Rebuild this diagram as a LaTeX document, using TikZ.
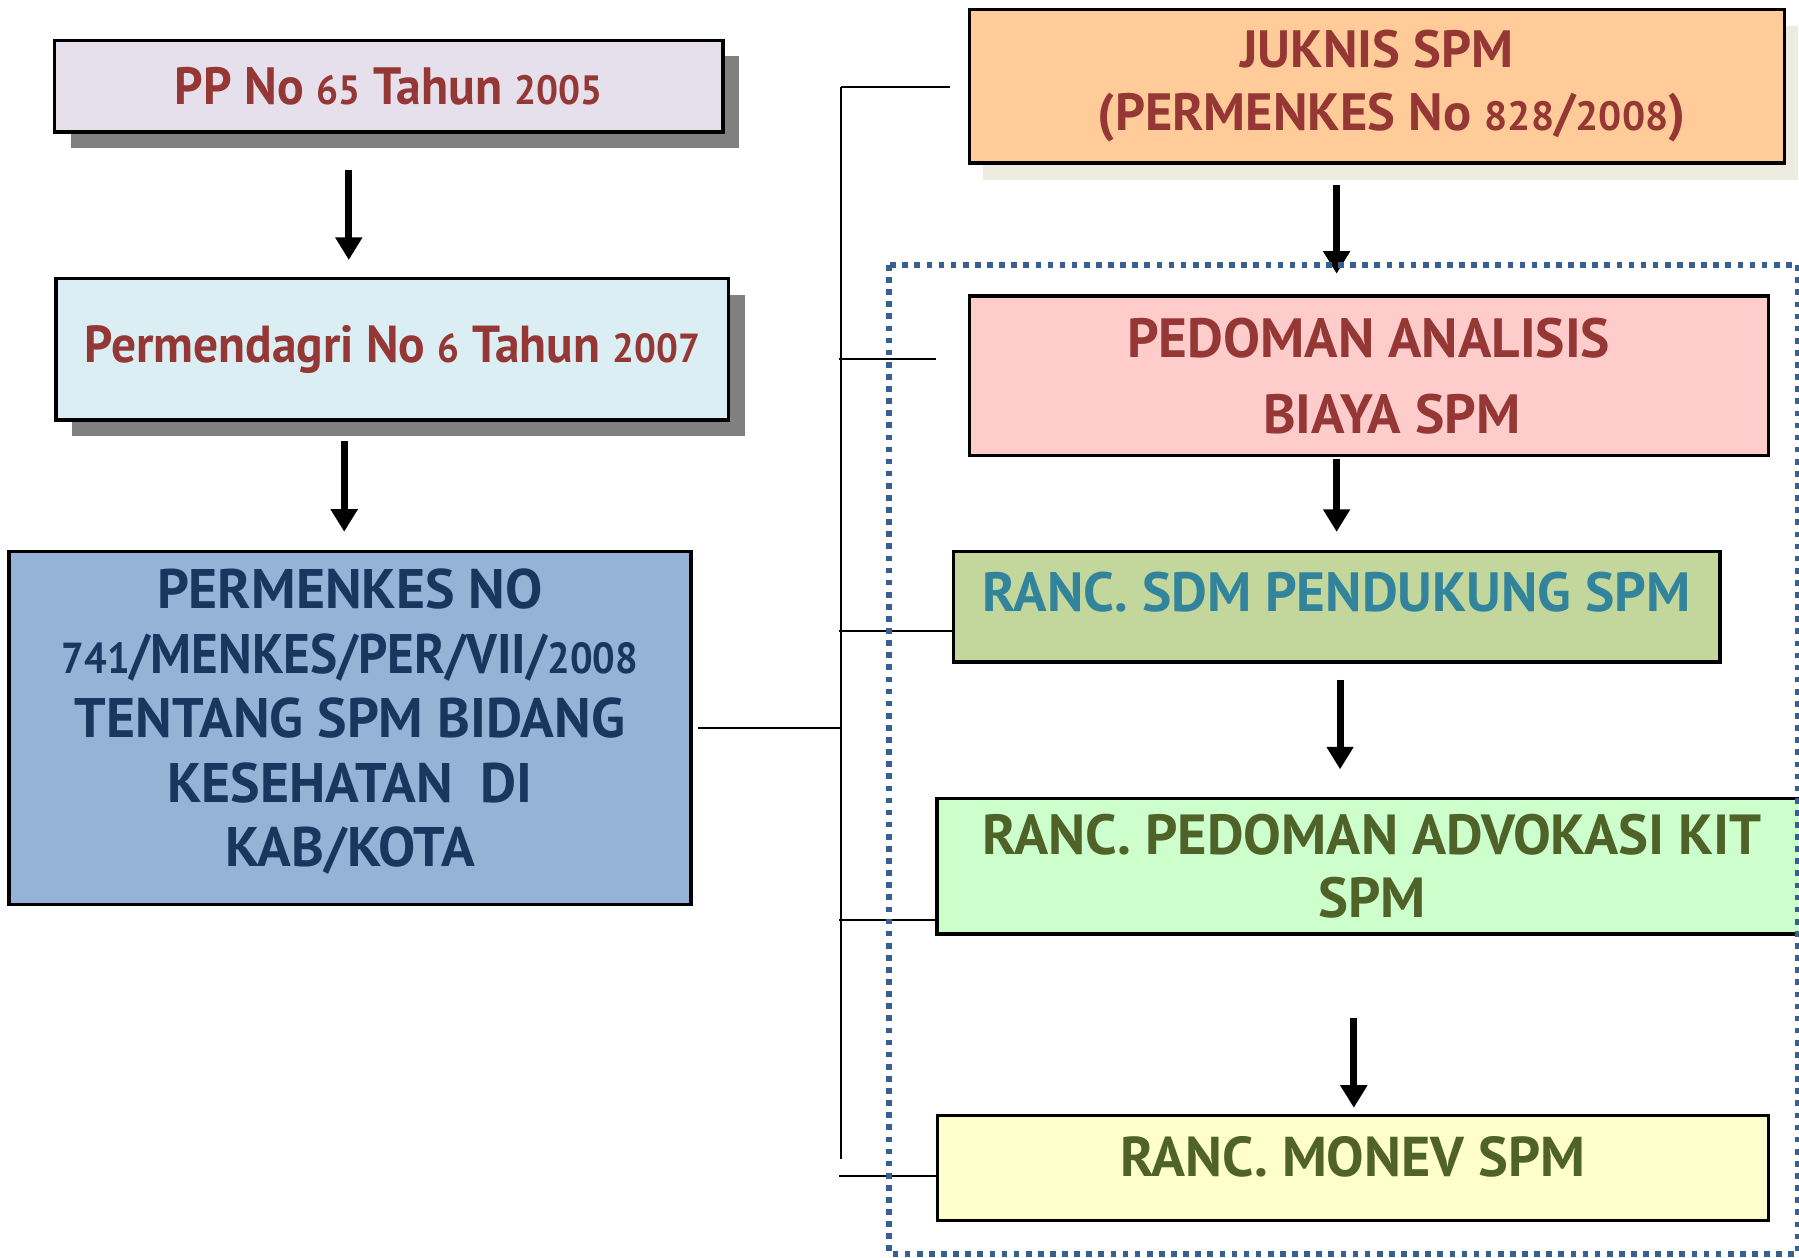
\documentclass[tikz,border=0pt]{standalone}
\usepackage{fontspec}
\usepackage{xcolor}
\usepackage{graphicx}
\usetikzlibrary{
    arrows.meta,
    calc,
    shadows,
    positioning
}
\newfontfamily\boxfont{PT Sans}[FakeStretch=0.95]
\newfontfamily\capfont{PT Sans}
\newcommand{\olddig}[1]{\scalebox{0.78}{#1}}
\definecolor{ppfill}{HTML}{E6E0EC}
\definecolor{dagrifill}{HTML}{DBEEF4}
\definecolor{kesfill}{HTML}{95B3D7}
\definecolor{jukfill}{HTML}{FFCC99}
\definecolor{jukshade}{HTML}{EEECE1}
\definecolor{pabfill}{HTML}{FFCCCC}
\definecolor{sdmfill}{HTML}{C3D69B}
\definecolor{advfill}{HTML}{CCFFCC}
\definecolor{monfill}{HTML}{FFFFCC}
\definecolor{redtxt}{HTML}{953735}
\definecolor{navytxt}{HTML}{17375E}
\definecolor{tealtxt}{HTML}{31849B}
\definecolor{olivetxt}{HTML}{4F6228}
\definecolor{dotblue}{HTML}{376092}
\tikzset{box/.style={draw=black, line width=0.8pt, align=center, inner sep=0pt}}
\tikzset{fs/.style 2 args={font=\boxfont\bfseries\fontsize{#1}{#2}\selectfont}}
\tikzset{cs/.style 2 args={font=\capfont\bfseries\fontsize{#1}{#2}\selectfont}}
\tikzset{greyshade/.style={drop shadow={shadow xshift=0.14cm, shadow yshift=-0.14cm, fill=black!50, opacity=1}}}
\tikzset{beigeshade/.style={drop shadow={shadow xshift=0.12cm, shadow yshift=-0.15cm, fill=jukshade, opacity=1}}}
\tikzset{arr/.style={-{Triangle[length=5.6pt, width=6.4pt]}, line width=1.7pt}}
\tikzset{tie/.style={line width=0.6pt}}
\tikzset{dotframe/.style={draw=dotblue, line width=1.4pt, dash pattern=on 1.4pt off 1.6pt}}

\begin{document}
\begin{tikzpicture}[x=0.01cm, y=-0.01cm]
    \useasboundingbox (0, 0) rectangle (1568, 1096);

    \node[box, greyshade, fill=ppfill, text=redtxt, fs={13}{15}, minimum width=5.82cm, minimum height=0.80cm] (pp) at (339, 75) {PP No \olddig{65} Tahun \olddig{2005}};
    \node[box, greyshade, fill=dagrifill, text=redtxt, fs={12.9}{15}, minimum width=5.86cm, minimum height=1.23cm] (pmdn) at (342, 304.5) {Permendagri No \olddig{6} Tahun \olddig{2007}};
    \node[box, fill=kesfill, text=navytxt, cs={13.8}{16}, text depth=5pt, minimum width=5.94cm, minimum height=3.07cm] (pmk) at (305, 634.5) {PERMENKES NO\\{\addfontfeature{FakeStretch=0.92}\olddig{741}/MENKES/PER/VII/\olddig{2008}}\\TENTANG SPM BIDANG\\KESEHATAN\ \ DI\\KAB/KOTA};

    \node[box, beigeshade, fill=jukfill, text=redtxt, cs={13}{15.4}, minimum width=7.10cm, minimum height=1.34cm] (juknis) at (1200, 75) {JUKNIS SPM\\\hspace*{0.26cm}(PERMENKES No \olddig{828}/\olddig{2008})};
    \node[box, fill=pabfill, text=redtxt, cs={13.7}{18.8}, minimum width=6.96cm, minimum height=1.39cm] (pab) at (1193, 327.5) {PEDOMAN ANALISIS\\\hspace*{0.4cm}BIAYA SPM};
    \node[box, fill=sdmfill, text=tealtxt, cs={13.7}{15.6}, text depth=7.4pt, minimum width=6.68cm, minimum height=0.96cm] (sdm) at (1165, 529) {RANC. SDM PENDUKUNG SPM};
    \node[box, fill=advfill, text=olivetxt, cs={14}{15.6}, minimum width=7.58cm, minimum height=1.18cm] (advo) at (1196, 755) {RANC. PEDOMAN ADVOKASI KIT\\SPM};
    \node[box, fill=monfill, text=olivetxt, cs={13.9}{15.6}, text depth=5.7pt, minimum width=7.24cm, minimum height=0.92cm] (monev) at (1179, 1018) {RANC. MONEV SPM};

    \draw[arr] ($(pp.south)+(-35, 32)$) -- ($(pmdn.north)+(-38, -15)$);
    \draw[arr] ($(pmdn.south)+(-42, 17)$) -- ($(pmk.north)+(-5, -16)$);
    \draw[arr] ($(juknis.south)+(-35, 18)$) -- ($(pab.north)+(-28, -18)$);
    \draw[arr] ($(pab.south)+(-28, 2)$) -- ($(sdm.north)+(0, -16)$);
    \draw[arr] ($(sdm.south)+(3, 14)$) -- ($(advo.north)+(-28, -24)$);
    \draw[arr] ($(advo.south)+(-16, 72)$) -- ($(monev.north)+(1, -5)$);

    \coordinate (spinetop) at (733, 76);
    \coordinate (spinebot) at (733, 1010);
    \draw[tie] (spinetop) -- (spinebot);
    \draw[tie] (spinetop) -- ($(juknis.west)+(-15, 1)$);
    \draw[tie] ($(pab.west)+(-112, -14.5)$) -- ($(pab.west)+(-28, -14.5)$);
    \draw[tie] ($(sdm.west)+(-98, 21)$) -- ($(sdm.west)+(0, 21)$);
    \draw[tie] ($(advo.west)+(-84, 47)$) -- ($(advo.west)+(0, 47)$);
    \draw[tie] ($(monev.west)+(-84, 7)$) -- ($(monev.west)+(0, 7)$);
    \draw[tie] ($(pmk.east)+(5, 0)$) -- (spinetop |- pmk.east);

    \draw[dotframe] (775, 231) rectangle (1567, 1093);
\end{tikzpicture}
\end{document}
